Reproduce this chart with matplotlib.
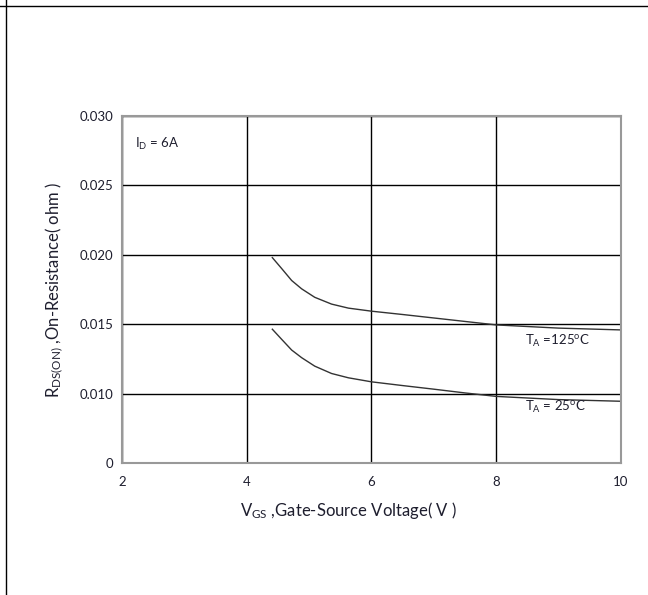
import matplotlib
matplotlib.use("Agg")
import matplotlib.pyplot as plt
from matplotlib.lines import Line2D

# valores
vgs = [4.41, 4.56, 4.72, 4.88, 5.09, 5.36, 5.63, 6.0, 6.5, 7.0, 7.5, 8.0, 9.0, 10.0]
rds_125 = [0.0198, 0.01901, 0.01815, 0.01755, 0.01694, 0.01645, 0.01616, 0.01594,
           0.0157, 0.01545, 0.0152, 0.01495, 0.01472, 0.01459]
rds_25 = [0.01464, 0.01391, 0.01314, 0.01259, 0.01198, 0.01145, 0.01114, 0.01085,
          0.01058, 0.01032, 0.01005, 0.0098, 0.00957, 0.00945]

x_ticks = [2, 4, 6, 8, 10]
y_ticks = [0.005, 0.010, 0.015, 0.020, 0.025, 0.030]
y_tick_labels = ['0', '0.010', '0.015', '0.020', '0.025', '0.030']

plt.rcParams['font.family'] = ['Lato', 'DejaVu Sans']
plt.rcParams['mathtext.default'] = 'regular'
txt_color = '#1e1e2e'

fig = plt.figure(figsize=(6.48, 5.95), dpi=100)
ax = fig.add_axes([0.1883, 0.2218, 0.77, 0.5832])

ax.plot(vgs, rds_125, color='#333333', lw=1.0)
ax.plot(vgs, rds_25, color='#333333', lw=1.0)

ax.set_xlim(2, 10)
ax.set_ylim(0.005, 0.030)
ax.set_xticks(x_ticks)
ax.set_yticks(y_ticks)
ax.set_yticklabels(y_tick_labels)
ax.grid(True, color='black', lw=1.0)
ax.tick_params(length=0, labelsize=9.5, colors=txt_color, pad=6)
ax.tick_params(axis='x', pad=9)

for s in ax.spines.values():
    s.set_color('#999999')
    s.set_linewidth(1.5)

ax.text(2.21, 0.02797, r'I$_{\mathregular{D}}$ = 6A', fontsize=9.5,
        color=txt_color, va='center')
ax.text(8.46, 0.0138, r'T$_{\mathregular{A}}$ =125$^{\mathregular{o}}$C', fontsize=9.5,
        color=txt_color, va='center')
ax.text(8.46, 0.00905, r'T$_{\mathregular{A}}$ = 25$^{\mathregular{o}}$C', fontsize=9.5,
        color=txt_color, va='center')

ax.set_xlabel(r'V$_{\mathregular{GS}}$ ,Gate-Source Voltage( V )', fontsize=12, color=txt_color)
ax.xaxis.set_label_coords(0.453, -0.107)
ax.set_ylabel(r'R$_{\mathregular{DS(ON)}}$ ,On-Resistance( ohm )', fontsize=12, color=txt_color)
ax.yaxis.set_label_coords(-0.112, 0.5)

# marco de la pagina
fig.add_artist(Line2D([0, 1], [1 - 6 / 595, 1 - 6 / 595], color='black', lw=1.0))
fig.add_artist(Line2D([5.5 / 648, 5.5 / 648], [0, 1], color='black', lw=1.0))

plt.savefig('out.png', dpi=100)
